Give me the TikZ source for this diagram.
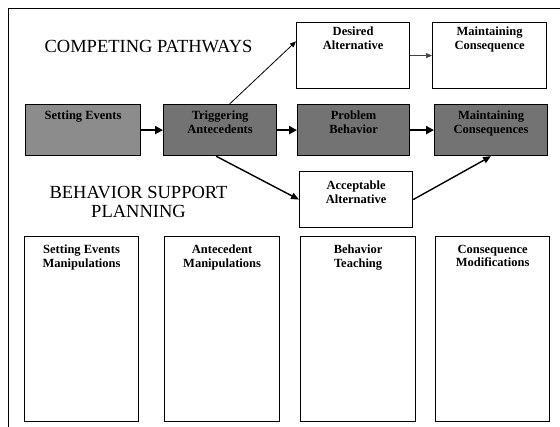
\documentclass[tikz,border=0pt]{standalone}
\usepackage{fontspec}
\setmainfont{Liberation Serif}
\newfontfamily\diagserif{Liberation Serif}
\usetikzlibrary{arrows.meta,calc}
\begin{document}
\begin{tikzpicture}[x=1pt,y=-1pt,
  framebox/.style={draw, line width=1.2pt, rectangle, inner sep=0pt, anchor=north west},
  shaded/.style={framebox, fill=black!55},
  lightshaded/.style={framebox, fill=black!45},
  lbl/.style={inner sep=0pt, align=center, font=\diagserif\bfseries\fontsize{12.5}{13.5}\selectfont},
  heading/.style={inner sep=0pt, align=center, font=\diagserif\fontsize{18.5}{19}\selectfont},
  bigarrow/.style={line width=2.4pt, -{Triangle[length=8pt,width=8pt]}},
  midarrow/.style={line width=1.4pt, -{Triangle[length=8pt,width=6.5pt]}},
  thinarrow/.style={line width=0.8pt, -{Triangle[length=6pt,width=5pt]}},
]
\useasboundingbox (0,0) rectangle (560,427);

% outer frame (top and left sides)
\coordinate (fbl) at (8,430);
\coordinate (ftr) at (562,9);
\draw[line width=1pt] (fbl) |- (ftr);

% headings
\node[heading] (cp) at (148.5,47) {COMPETING PATHWAYS};
\node[heading] (bsp) at (138.5,202) {BEHAVIOR SUPPORT\\PLANNING};

% competing pathways: top row
\node[framebox, minimum width=113pt, minimum height=66pt,
  label={[lbl,anchor=north,yshift=-5pt]north:{Desired\\Alternative}}] (des) at (296,22) {};
\node[framebox, minimum width=114pt, minimum height=66pt,
  label={[lbl,anchor=north,yshift=-5pt]north:{Maintaining\\Consequence}}] (mc) at (432,22) {};

% competing pathways: main chain
\node[lightshaded, minimum width=115pt, minimum height=51pt,
  label={[lbl,anchor=north,yshift=-7pt]north:{Setting Events}}] (set) at (25,104) {};
\node[shaded, minimum width=113pt, minimum height=51pt,
  label={[lbl,anchor=north,yshift=-7pt]north:{Triggering\\Antecedents}}] (trig) at (163,104) {};
\node[shaded, minimum width=112pt, minimum height=51pt,
  label={[lbl,anchor=north,yshift=-7pt]north:{Problem\\Behavior}}] (prob) at (297,104) {};
\node[shaded, minimum width=113pt, minimum height=51pt,
  label={[lbl,anchor=north,yshift=-7pt]north:{Maintaining\\Consequences}}] (mcs) at (434,104) {};

% competing pathways: lower alternative
\node[framebox, minimum width=113pt, minimum height=56pt,
  label={[lbl,anchor=north,yshift=-10pt]north:{Acceptable\\Alternative}}] (acc) at (299,171) {};

% behavior support planning columns
\node[framebox, minimum width=114pt, minimum height=185pt,
  label={[lbl,anchor=north,yshift=-9pt]north:{Setting Events\\Manipulations}}] (sem) at (24,236) {};
\node[framebox, minimum width=115pt, minimum height=185pt,
  label={[lbl,anchor=north,yshift=-9pt]north:{Antecedent\\Manipulations}}] (am) at (164,236) {};
\node[framebox, minimum width=115pt, minimum height=185pt,
  label={[lbl,anchor=north,yshift=-9pt]north:{Behavior\\Teaching}}] (bt) at (300,236) {};
\node[framebox, minimum width=114pt, minimum height=185pt,
  label={[lbl,anchor=north,yshift=-9pt]north:{Consequence\\Modifications}}] (cm) at (435,236) {};

% connectors
\draw[bigarrow] (set.east) -- (trig.west);
\draw[bigarrow] (trig.east) -- (prob.west);
\draw[bigarrow] (prob.east) -- (mcs.west);
\draw[thinarrow] (trig.70) -- (des.166);
\draw[thinarrow, black!75, line width=0.6pt] (des.east) -- (mc.west);
\draw[midarrow] ($(trig.south)+(-4,0)$) -- (acc.west);
\draw[midarrow] (acc.east) -- (mcs.south);
\end{tikzpicture}
\end{document}
